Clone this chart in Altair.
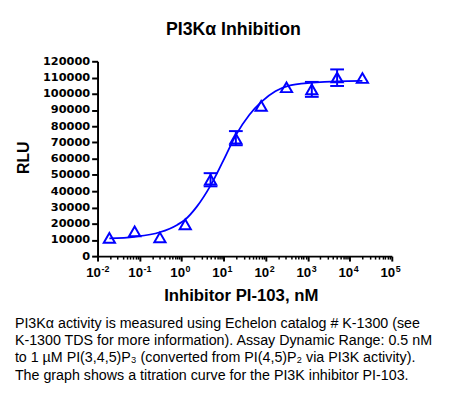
import altair as alt
import pandas as pd

# ---- data ----
conc = [0.0191, 0.0763, 0.305, 1.22, 4.88, 19.5, 78.1, 312.5, 1250, 5000, 20000]
rlu = [11300, 15300, 11500, 19600, 47100, 72400, 92500, 104000, 102700, 110000, 109700]

err_x = [4.88, 19.5, 1250, 5000]
err_lo = [43000, 68300, 98100, 104800]
err_hi = [51100, 77000, 107300, 115000]

curve_x = [0.0191, 0.075, 0.30, 0.8, 1.2, 2.3, 4.9, 9.8, 20, 41, 80, 170, 330, 1300, 5200, 20000]
curve_y = [10900, 11900, 14700, 19400, 22400, 30500, 43600, 58800, 75000, 87100,
           95200, 101600, 104700, 106800, 107700, 107900]

decades = [0.01, 0.1, 1, 10, 100, 1000, 10000, 100000]
exps = ["-2", "-1", "0", "1", "2", "3", "4", "5"]
minor = [k * d for d in decades[:-1] for k in range(2, 10)]
y_ticks = list(range(0, 120001, 10000))

title_text = "PI3Kα Inhibition"
x_title = "Inhibitor PI-103, nM"
y_title = "RLU"
caption = [
    "PI3Kα activity is measured using Echelon catalog # K-1300 (see",
    "K-1300 TDS for more information).  Assay Dynamic Range: 0.5 nM",
    "to 1 µM PI(3,4,5)P₃ (converted from PI(4,5)P₂ via PI3K activity).",
    "The graph shows a titration curve for the PI3K inhibitor PI-103.",
]

BLUE = "#0000ff"
FONT = "Arial, 'Liberation Sans', sans-serif"
NUMFONT = "'DejaVu Sans', Arial, sans-serif"
W, H = 299, 198

pts = pd.DataFrame({"conc": conc, "rlu": rlu})
errs = pd.DataFrame({"conc": err_x, "lo": err_lo, "hi": err_hi})
curve = pd.DataFrame({"conc": curve_x, "rlu": curve_y})
labs = pd.DataFrame({"conc": decades, "exp": exps})
one = pd.DataFrame({"k": [0]})

xscale = alt.Scale(type="log", domain=[0.01, 100000], nice=False)
yscale = alt.Scale(domain=[0, 120000], nice=False, zero=True)

is_major = "abs(log(datum.value)/LN10 - round(log(datum.value)/LN10)) < 0.001"

xaxis = alt.Axis(
    values=decades + minor,
    labels=False,
    title=None,
    grid=False,
    domainColor="black",
    domainWidth=2,
    tickColor="black",
    tickWidth={"condition": {"test": is_major, "value": 2}, "value": 1.5},
    tickSize={"condition": {"test": is_major, "value": 5}, "value": 3},
    orient="bottom",
)
yaxis = alt.Axis(
    values=y_ticks,
    format="d",
    title=None,
    grid=False,
    domainColor="black",
    domainWidth=2,
    tickColor="black",
    tickWidth=2,
    tickSize=6,
    labelFont=NUMFONT,
    labelFontWeight="bold",
    labelFontSize=11.5,
    labelColor="black",
    labelPadding=2,
    labelOverlap=False,
    labelFlush=False,
    labelBound=False,
)


def X(field):
    return alt.X(field, type="quantitative", scale=xscale, axis=xaxis)


def Y(field):
    return alt.Y(field, type="quantitative", scale=yscale, axis=yaxis)


line = alt.Chart(curve).mark_line(color=BLUE, strokeWidth=1.8, interpolate="monotone").encode(
    x=X("conc"), y=Y("rlu")
)

points = alt.Chart(pts).mark_point(
    shape="triangle-up", size=130, filled=False, color=BLUE, strokeWidth=2, opacity=1
).encode(x=X("conc"), y=Y("rlu"))

bars = alt.Chart(errs).mark_rule(color=BLUE, strokeWidth=2).encode(
    x=X("conc"), y=Y("lo"), y2="hi:Q"
)
cap_lo = alt.Chart(errs).mark_tick(color=BLUE, orient="horizontal", size=14, thickness=2, opacity=1).encode(
    x=X("conc"), y=Y("lo")
)
cap_hi = alt.Chart(errs).mark_tick(color=BLUE, orient="horizontal", size=14, thickness=2, opacity=1).encode(
    x=X("conc"), y=Y("hi")
)

ten = alt.Chart(labs).mark_text(
    font=FONT, fontWeight="bold", fontSize=13.5, color="black", align="center", baseline="alphabetic", dx=-4
).encode(x=X("conc"), y=alt.value(H + 21), text=alt.value("10"))
sup = alt.Chart(labs).mark_text(
    font=FONT, fontWeight="bold", fontSize=9, color="black", align="left", baseline="alphabetic", dx=4
).encode(x=X("conc"), y=alt.value(H + 16), text="exp:N")


def txt(text, x, y, size, weight="bold", align="center", baseline="alphabetic", angle=0, lh=None):
    kw = dict(font=FONT, fontWeight=weight, fontSize=size, color="black", align=align, baseline=baseline)
    if angle:
        kw["angle"] = angle
    if lh:
        kw["lineHeight"] = lh
    return alt.Chart(one).mark_text(**kw).encode(x=alt.value(x), y=alt.value(y), text=alt.value(text))


t_title = txt(title_text, 138, -27, 18)
t_x = txt(x_title, 146, 244, 17)
t_y = txt(y_title, -75, 98, 16, baseline="middle", angle=270)
t_cap = txt(caption, -84, 271, 14.5, weight="normal", align="left", lh=17.5)

chart = alt.layer(
    line, bars, cap_lo, cap_hi, points, ten, sup, t_title, t_x, t_y, t_cap
).properties(
    width=W, height=H,
    autosize=alt.AutoSizeParams(type="none"),
    padding={"left": 91, "top": 51, "right": 50, "bottom": 141},
    background="white",
).configure_view(stroke=None)

chart.save("out.html", embed_options={"renderer": "svg", "actions": False})
